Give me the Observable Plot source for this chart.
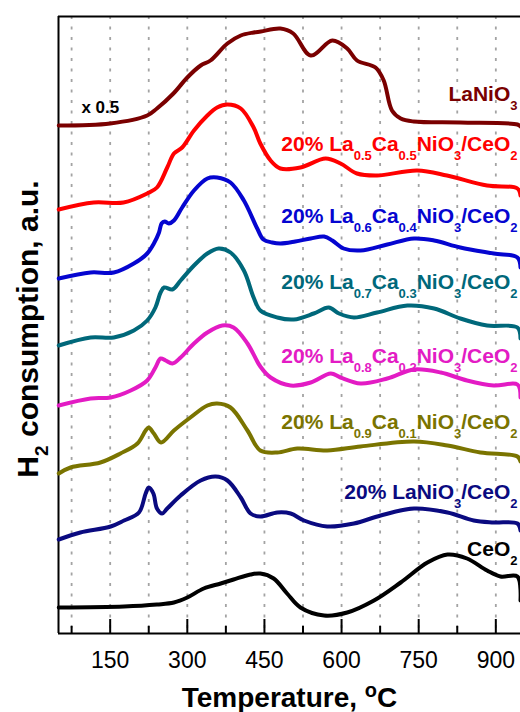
<!DOCTYPE html>
<html>
<head>
<meta charset="utf-8">
<script src="https://cdn.jsdelivr.net/npm/d3@7"></script>
<script src="https://cdn.jsdelivr.net/npm/@observablehq/plot@0.6"></script>
<style>
  html, body { margin: 0; padding: 0; background: #fff; }
  #chart svg { display: block; }
</style>
</head>
<body>
<div id="chart"></div>
<script>
// H2-TPR profiles as [temperature (°C), H2 signal (a.u.)]; each sample is stacked with its own offset.
const laNiO3 = [[50,508],[150,510],[222,518],[241,525],[273,540],[300,556],[326,568],[345,573],[378,590],[404,598],[429,601],[443,602],[481,605],[506,600],[540,578],[582,593],[611,585],[630,573],[666,566],[682,553],[698,523],[715,515],[740,512],[831,511],[942,509],[948,507]];
const la05ca05 = [[50,424],[118,431],[176,431],[222,440],[241,446],[261,466],[274,480],[290,486],[313,503],[339,518],[358,526],[378,529],[404,525],[429,506],[442,490],[462,473],[481,465],[520,466],[569,475],[598,470],[630,460],[669,458],[747,463],[805,458],[883,448],[942,445],[948,438]];
const la06ca04 = [[50,355],[112,361],[157,361],[196,370],[222,380],[235,390],[245,401],[250,410],[256,412],[264,410],[274,413],[290,426],[313,443],[339,455],[358,456],[384,451],[410,433],[436,405],[448,394],[465,391],[481,390],[510,392],[540,395],[566,397],[582,393],[604,385],[637,383],[689,389],[741,395],[780,393],[831,386],[896,380],[942,376],[948,366]];
const la07ca03 = [[50,288],[112,296],[157,296],[196,303],[222,313],[238,326],[248,341],[255,346],[271,344],[287,353],[313,368],[339,380],[361,385],[384,381],[410,363],[429,336],[442,323],[475,316],[507,314],[546,320],[575,326],[595,320],[624,316],[669,321],[728,328],[780,325],[831,315],[883,308],[942,306],[948,295]];
const la08ca02 = [[50,228],[112,235],[151,236],[190,243],[222,253],[238,266],[248,275],[258,273],[271,270],[287,276],[313,290],[339,301],[368,308],[390,306],[417,290],[442,267],[462,256],[501,248],[540,251],[579,260],[598,256],[637,250],[689,255],[741,264],[793,261],[844,253],[896,248],[942,249],[948,236]];
const la09ca01 = [[50,160],[73,166],[131,171],[170,180],[203,190],[219,203],[225,206],[235,200],[249,191],[274,203],[306,216],[339,228],[358,230],[384,226],[417,203],[442,183],[475,181],[514,185],[572,183],[637,187],[741,192],[806,188],[870,181],[942,177],[948,172]];
const laNiO3CeO2 = [[50,94],[92,101],[151,107],[177,113],[206,121],[219,140],[225,146],[234,140],[241,125],[251,120],[261,125],[287,138],[326,153],[355,157],[378,153],[404,136],[423,120],[442,117],[475,121],[501,120],[527,113],[572,107],[624,110],[676,118],[741,125],[806,121],[857,113],[896,111],[942,110],[948,103]];
const ceo2 = [[50,26],[177,27],[241,29],[274,31],[300,36],[332,45],[365,50],[390,54],[423,59],[442,60],[468,55],[494,40],[520,26],[566,18],[611,21],[663,33],[715,51],[767,71],[806,79],[844,75],[883,63],[909,57],[942,57],[948,33]];

// Sample names (_{..} marks a subscript) and their colours
const sampleLabels = [
  "LaNiO_{3}",
  "20% La_{0.5}Ca_{0.5}NiO_{3}/CeO_{2}",
  "20% La_{0.6}Ca_{0.4}NiO_{3}/CeO_{2}",
  "20% La_{0.7}Ca_{0.3}NiO_{3}/CeO_{2}",
  "20% La_{0.8}Ca_{0.2}NiO_{3}/CeO_{2}",
  "20% La_{0.9}Ca_{0.1}NiO_{3}/CeO_{2}",
  "20% LaNiO_{3}/CeO_{2}",
  "CeO_{2}"
];
const sampleColors = ["#7a0000", "#ff0000", "#0505d0", "#00687a", "#e31bc4", "#7a7400", "#0a0a80", "#000000"];
const sampleData = [laNiO3, la05ca05, la06ca04, la07ca03, la08ca02, la09ca01, laNiO3CeO2, ceo2];

// Temperature axis
const xMajor = [150, 300, 450, 600, 750, 900];
const xMinor = [75, 225, 375, 525, 675, 825];
const xGrid = [75, 150, 225, 300, 375, 450, 525, 600, 675, 750, 825, 900];

// layout
const xDomain = [49.5, 948];
const yDomain = [0, 617];
const labelBaselines = [533, 483, 411, 345, 271, 205, 135, 78];

const bold = "bold";
const marks = [
  Plot.ruleX(xGrid, {stroke: "#a3a3a3", strokeWidth: 1.8, strokeDasharray: "3 7.5"}),
  Plot.ruleX([xDomain[0]], {stroke: "#000", strokeWidth: 2}),
  Plot.ruleY([yDomain[0]], {stroke: "#000", strokeWidth: 2}),
  Plot.ruleY([yDomain[1]], {stroke: "#000", strokeWidth: 2}),
  Plot.ruleX(xMajor, {y1: 0, y2: 14, stroke: "#000", strokeWidth: 2}),
  Plot.ruleX(xMinor, {y1: 0, y2: 7, stroke: "#000", strokeWidth: 2}),
  Plot.text(xMajor, {x: d => d, frameAnchor: "bottom", dy: 34.5, lineAnchor: "bottom", fontSize: 23, fill: "#000"}),
  Plot.text(["Temperature, ^{o}C"], {frameAnchor: "bottom", dy: 73, lineAnchor: "bottom", fontSize: 28, fontWeight: bold, fill: "#000"}),
  Plot.text(["H_{2} consumption, a.u."], {frameAnchor: "left", rotate: -90, dx: -21, dy: 4, lineAnchor: "bottom", textAnchor: "middle", fontSize: 30, fontWeight: bold, fill: "#000"}),
  Plot.text(["x 0.5"], {x: 94, y: 521, textAnchor: "start", lineAnchor: "bottom", fontSize: 17, fontWeight: bold, fill: "#000"})
];

sampleData.forEach((pts, i) => {
  marks.push(Plot.line(pts, {x: d => d[0], y: d => d[1], stroke: sampleColors[i], strokeWidth: 4, curve: "catmull-rom", strokeLinejoin: "round"}));
  marks.push(Plot.text([sampleLabels[i]], {frameAnchor: "right", y: () => labelBaselines[i], dx: -3, textAnchor: "end", lineAnchor: "bottom", fontSize: 21, fontWeight: bold, fill: sampleColors[i]}));
});

const chart = Plot.plot({
  width: 520,
  height: 712,
  marginLeft: 58,
  marginRight: 0,
  marginTop: 16,
  marginBottom: 79,
  style: {fontFamily: "'Liberation Sans', Arial, sans-serif", background: "#fff", overflow: "visible"},
  x: {domain: xDomain, axis: null},
  y: {domain: yDomain, axis: null},
  marks
});

document.getElementById("chart").appendChild(chart);

// Sub/superscript rendering: font-size -> [small size, subscript drop, superscript rise]
const scriptStyle = {21: [13, 9, 8], 28: [20, 9, 9.5], 30: [19, 10, 10]};
d3.select(chart).selectAll("text").each(function () {
  const src = this.textContent;
  if (!/[_^]\{/.test(src)) return;
  let size = Math.round(parseFloat(getComputedStyle(this).fontSize));
  if (!scriptStyle[size]) size = 21;
  const [small, drop, rise] = scriptStyle[size];
  const el = d3.select(this);
  el.text(null);
  let shift = 0;
  for (const part of src.split(/([_^]\{[^}]*\})/).filter(s => s)) {
    const m = /^([_^])\{(.*)\}$/.exec(part);
    const t = el.append("tspan");
    if (m) {
      const target = m[1] === "_" ? drop : -rise;
      t.attr("font-size", small).attr("dy", target - shift).text(m[2]);
      shift = target;
    } else {
      if (shift) t.attr("dy", -shift);
      shift = 0;
      t.text(part);
    }
  }
});
</script>
</body>
</html>
